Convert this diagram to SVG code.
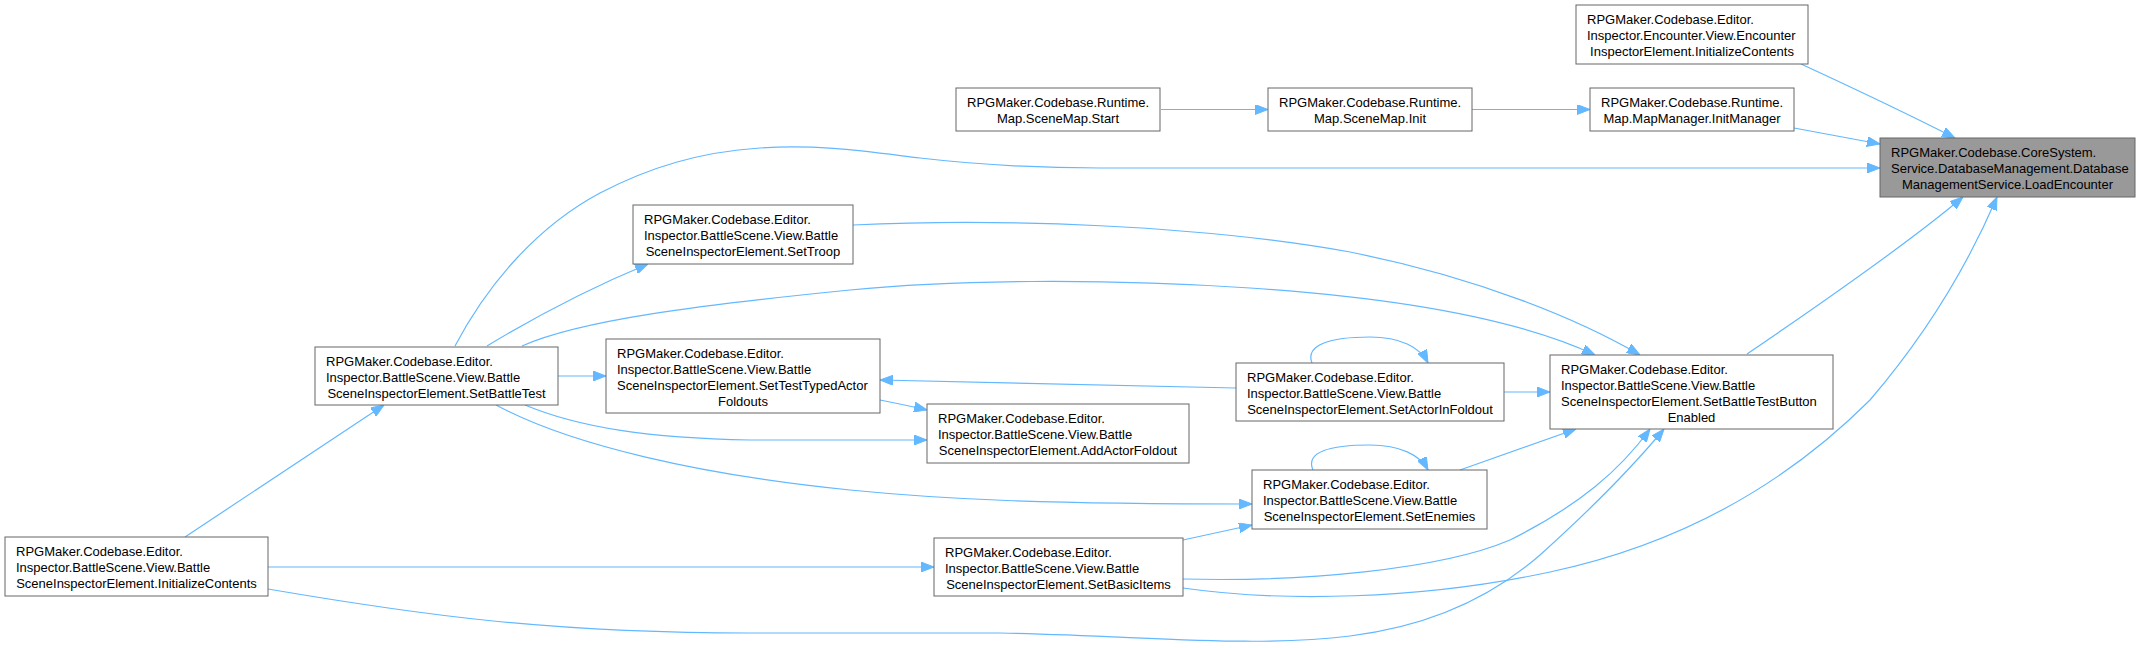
<svg xmlns="http://www.w3.org/2000/svg" width="2142" height="648" viewBox="0 0 2142 648">
<style>
.n{fill:#ffffff;stroke:#666666;stroke-width:1}
.g{fill:#999999;stroke:#666666;stroke-width:1}
.t{font-family:"Liberation Sans",Arial,sans-serif;font-size:13px;fill:#000000}
.m{text-anchor:middle}
.e{fill:none;stroke:#63b8ff;stroke-width:1.2}
</style>
<defs>
<marker id="ah" markerWidth="13" markerHeight="10" refX="13" refY="5" orient="auto" markerUnits="userSpaceOnUse">
<path d="M0,0 L13,5 L0,10 z" fill="#63b8ff" stroke="#63b8ff" stroke-width="1"/>
</marker>
</defs>
<rect width="2142" height="648" fill="#ffffff"/>
<g id="connectors">
<path class="e" marker-end="url(#ah)" d="M1161,109.5 L1268,109.5"/>
<path class="e" marker-end="url(#ah)" d="M1472,109.5 L1590,109.5"/>
<path class="e" marker-end="url(#ah)" d="M1794,128 L1880,144"/>
<path class="e" marker-end="url(#ah)" d="M1801,64 C1840,82 1900,110 1955,138"/>
<path class="e" marker-end="url(#ah)" d="M455,346 C490,280 540,225 600,193 C650,167 700,152 760,148 C820,144 870,152 920,158 C980,165 1040,168 1100,168 L1880,168"/>
<path class="e" marker-end="url(#ah)" d="M1747,354 C1800,318 1900,250 1963,197"/>
<path class="e" marker-end="url(#ah)" d="M1183,588 C1280,602 1420,600 1550,572 C1700,540 1800,470 1870,400 C1930,330 1970,260 1997,197"/>
<path class="e" marker-end="url(#ah)" d="M1183,579 C1300,582 1440,570 1510,540 C1580,505 1620,470 1650,429"/>
<path class="e" marker-end="url(#ah)" d="M268,589 C420,615 550,633 750,633 L1000,633 C1150,636 1250,648 1350,636 C1440,625 1500,590 1540,555 C1590,510 1630,470 1664,429"/>
<path class="e" marker-end="url(#ah)" d="M1460,470 L1576,429"/>
<path class="e" marker-end="url(#ah)" d="M1313,470 C1305,452 1330,445 1370,445 C1400,445 1420,455 1428,470"/>
<path class="e" marker-end="url(#ah)" d="M1312,363 C1305,345 1330,337 1370,337 C1400,337 1420,347 1428,363"/>
<path class="e" marker-end="url(#ah)" d="M1504,392 L1550,392"/>
<path class="e" marker-end="url(#ah)" d="M1236,388 C1100,386 980,382 880,380"/>
<path class="e" marker-end="url(#ah)" d="M880,400 C895,403 910,406 927,410"/>
<path class="e" marker-end="url(#ah)" d="M525,405 C580,428 650,438 750,440 L927,440"/>
<path class="e" marker-end="url(#ah)" d="M496,405 C570,445 700,475 850,490 C950,500 1050,504 1252,504"/>
<path class="e" marker-end="url(#ah)" d="M1183,540 L1252,525"/>
<path class="e" marker-end="url(#ah)" d="M268,567 L934,567"/>
<path class="e" marker-end="url(#ah)" d="M185,537 L384,405"/>
<path class="e" marker-end="url(#ah)" d="M558,376 L606,376"/>
<path class="e" marker-end="url(#ah)" d="M487,346 C530,320 590,288 648,264"/>
<path class="e" marker-end="url(#ah)" d="M853,225 C1000,218 1200,225 1350,252 C1480,278 1580,320 1640,355"/>
<path class="e" marker-end="url(#ah)" d="M522,346 C580,320 700,305 850,290 C950,280 1100,278 1250,288 C1400,298 1520,320 1595,355"/>
</g>
<g id="n_loadencounter">
<rect class="g" x="1880" y="138" width="255" height="59"/>
<text class="t" x="1891" y="156.5">RPGMaker.Codebase.CoreSystem.</text>
<text class="t" x="1891" y="172.5">Service.DatabaseManagement.Database</text>
<text class="t m" x="2007.5" y="188.5">ManagementService.LoadEncounter</text>
</g>
<g id="n_enc_init">
<rect class="n" x="1576" y="5" width="232" height="59"/>
<text class="t" x="1587" y="23.5">RPGMaker.Codebase.Editor.</text>
<text class="t" x="1587" y="39.5">Inspector.Encounter.View.Encounter</text>
<text class="t m" x="1692" y="55.5">InspectorElement.InitializeContents</text>
</g>
<g id="n_initmanager">
<rect class="n" x="1590" y="88" width="204" height="43"/>
<text class="t" x="1601" y="106.5">RPGMaker.Codebase.Runtime.</text>
<text class="t m" x="1692" y="122.5">Map.MapManager.InitManager</text>
</g>
<g id="n_start">
<rect class="n" x="956" y="88" width="204" height="43"/>
<text class="t" x="967" y="106.5">RPGMaker.Codebase.Runtime.</text>
<text class="t m" x="1058" y="122.5">Map.SceneMap.Start</text>
</g>
<g id="n_init">
<rect class="n" x="1268" y="88" width="204" height="43"/>
<text class="t" x="1279" y="106.5">RPGMaker.Codebase.Runtime.</text>
<text class="t m" x="1370" y="122.5">Map.SceneMap.Init</text>
</g>
<g id="n_settroop">
<rect class="n" x="633" y="205" width="220" height="59"/>
<text class="t" x="644" y="223.5">RPGMaker.Codebase.Editor.</text>
<text class="t" x="644" y="239.5">Inspector.BattleScene.View.Battle</text>
<text class="t m" x="743" y="255.5">SceneInspectorElement.SetTroop</text>
</g>
<g id="n_setbattletest">
<rect class="n" x="315" y="347" width="243" height="58"/>
<text class="t" x="326" y="365.5">RPGMaker.Codebase.Editor.</text>
<text class="t" x="326" y="381.5">Inspector.BattleScene.View.Battle</text>
<text class="t m" x="436.5" y="397.5">SceneInspectorElement.SetBattleTest</text>
</g>
<g id="n_settesttyped">
<rect class="n" x="606" y="339" width="274" height="74"/>
<text class="t" x="617" y="357.5">RPGMaker.Codebase.Editor.</text>
<text class="t" x="617" y="373.5">Inspector.BattleScene.View.Battle</text>
<text class="t" x="617" y="389.5">SceneInspectorElement.SetTestTypedActor</text>
<text class="t m" x="743" y="405.5">Foldouts</text>
</g>
<g id="n_initcontents">
<rect class="n" x="5" y="537" width="263" height="59"/>
<text class="t" x="16" y="555.5">RPGMaker.Codebase.Editor.</text>
<text class="t" x="16" y="571.5">Inspector.BattleScene.View.Battle</text>
<text class="t m" x="136.5" y="587.5">SceneInspectorElement.InitializeContents</text>
</g>
<g id="n_addactorfoldout">
<rect class="n" x="927" y="404" width="262" height="59"/>
<text class="t" x="938" y="422.5">RPGMaker.Codebase.Editor.</text>
<text class="t" x="938" y="438.5">Inspector.BattleScene.View.Battle</text>
<text class="t m" x="1058" y="454.5">SceneInspectorElement.AddActorFoldout</text>
</g>
<g id="n_setactorinfoldout">
<rect class="n" x="1236" y="363" width="268" height="58"/>
<text class="t" x="1247" y="381.5">RPGMaker.Codebase.Editor.</text>
<text class="t" x="1247" y="397.5">Inspector.BattleScene.View.Battle</text>
<text class="t m" x="1370" y="413.5">SceneInspectorElement.SetActorInFoldout</text>
</g>
<g id="n_setenemies">
<rect class="n" x="1252" y="470" width="235" height="59"/>
<text class="t" x="1263" y="488.5">RPGMaker.Codebase.Editor.</text>
<text class="t" x="1263" y="504.5">Inspector.BattleScene.View.Battle</text>
<text class="t m" x="1369.5" y="520.5">SceneInspectorElement.SetEnemies</text>
</g>
<g id="n_setbasicitems">
<rect class="n" x="934" y="538" width="249" height="58"/>
<text class="t" x="945" y="556.5">RPGMaker.Codebase.Editor.</text>
<text class="t" x="945" y="572.5">Inspector.BattleScene.View.Battle</text>
<text class="t m" x="1058.5" y="588.5">SceneInspectorElement.SetBasicItems</text>
</g>
<g id="n_setbattletestbuttonenabled">
<rect class="n" x="1550" y="355" width="283" height="74"/>
<text class="t" x="1561" y="373.5">RPGMaker.Codebase.Editor.</text>
<text class="t" x="1561" y="389.5">Inspector.BattleScene.View.Battle</text>
<text class="t" x="1561" y="405.5">SceneInspectorElement.SetBattleTestButton</text>
<text class="t m" x="1691.5" y="421.5">Enabled</text>
</g>
</svg>
